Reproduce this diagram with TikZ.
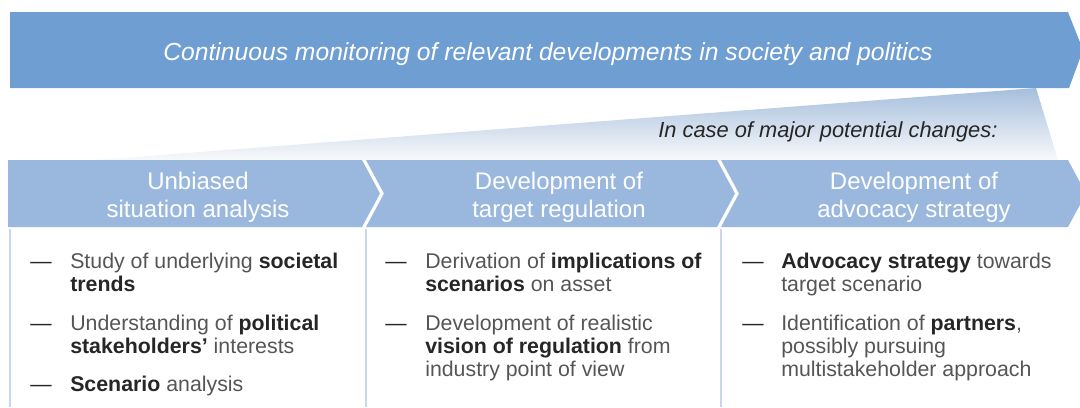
\documentclass[tikz,border=0pt]{standalone}
\usepackage{fontspec}
\setmainfont{Liberation Sans}
\definecolor{banner}{HTML}{6F9ED2}
\definecolor{chev}{HTML}{9AB8DE}
\definecolor{vline}{HTML}{C8D7EB}
\definecolor{txt}{HTML}{555555}
\definecolor{boldtxt}{HTML}{262626}
\definecolor{wedgetop}{HTML}{A6BFDD}
\definecolor{wedgebot}{HTML}{F8F9FB}
\newcommand\hl[1]{{\color{boldtxt}\bfseries #1}}
\begin{document}
\begin{tikzpicture}[x=0.75pt,y=-0.75pt,
  body/.style={anchor=base west, inner sep=0pt, font=\fontsize{16}{17.25}\selectfont, text=txt, align=left},
  dashmark/.style={anchor=base west, inner sep=0pt, font=\fontsize{16}{17.25}\selectfont, text=boldtxt},
  head/.style={anchor=base, inner sep=0pt, font=\fontsize{18}{21}\selectfont, text=white, align=center},
  chevshape/.style={fill=chev, draw=none},
  sepline/.style={draw=vline, line width=1.5pt},
]
\useasboundingbox (0,0) rectangle (1080,407);
% banner
\fill[banner] (10,12) -- (1068,12) -- (1083,50) -- (1069,88) -- (10,88) -- cycle;
\node[anchor=base, inner sep=0pt, text=white, font=\fontsize{18.5}{21}\selectfont\itshape] (bannertext) at (548,60) {Continuous monitoring of relevant developments in society and politics};
% wedge
\shade[top color=wedgetop, bottom color=wedgebot] (95,160) -- (1036,88) -- (1058,160) -- cycle;
\node[anchor=base west, inner sep=0pt, text=boldtxt, font=\fontsize{16.4}{18}\selectfont\itshape] (casetext) at (658,137) {In case of major potential changes:};
% chevrons
\fill[chevshape] (8,160) -- (362,160) -- (380,193.5) -- (362,227) -- (8,227) -- cycle;
\fill[chevshape] (366,160) -- (717,160) -- (735,193.5) -- (717,227) -- (366,227) -- (384,193.5) -- cycle;
\fill[chevshape] (721,160) -- (1068,160) -- (1086,193.5) -- (1068,227) -- (721,227) -- (739,193.5) -- cycle;
\node[head] (h1) at (198,217) {Unbiased\\situation analysis};
\node[head] (h2) at (559,217) {Development of\\target regulation};
\node[head] (h3) at (914,217) {Development of\\advocacy strategy};
% column separators
\draw[sepline] (10,229) -- (10,407);
\draw[sepline] (366,229) -- (366,407);
\draw[sepline] (721,229) -- (721,407);
% column 1
\node[dashmark] (d11) at (30,268) {—};
\node[body] (t11) at (70,291) {Study of underlying \hl{societal}\\\hl{trends}};
\node[dashmark] (d12) at (30,330) {—};
\node[body] (t12) at (70,353) {Understanding of \hl{political}\\\hl{stakeholders’} interests};
\node[dashmark] (d13) at (30,391) {—};
\node[body] (t13) at (70,391) {\hl{Scenario} analysis};
% column 2
\node[dashmark] (d21) at (385,268) {—};
\node[body] (t21) at (425,291) {Derivation of \hl{implications of}\\\hl{scenarios} on asset};
\node[dashmark] (d22) at (385,330) {—};
\node[body] (t22) at (425,376) {Development of realistic\\\hl{vision of regulation} from\\industry point of view};
% column 3
\node[dashmark] (d31) at (742,268) {—};
\node[body] (t31) at (781,291) {\hl{Advocacy strategy} towards\\target scenario};
\node[dashmark] (d32) at (742,330) {—};
\node[body] (t32) at (781,376) {Identification of \hl{partners},\\possibly pursuing\\multistakeholder approach};
\end{tikzpicture}
\end{document}
